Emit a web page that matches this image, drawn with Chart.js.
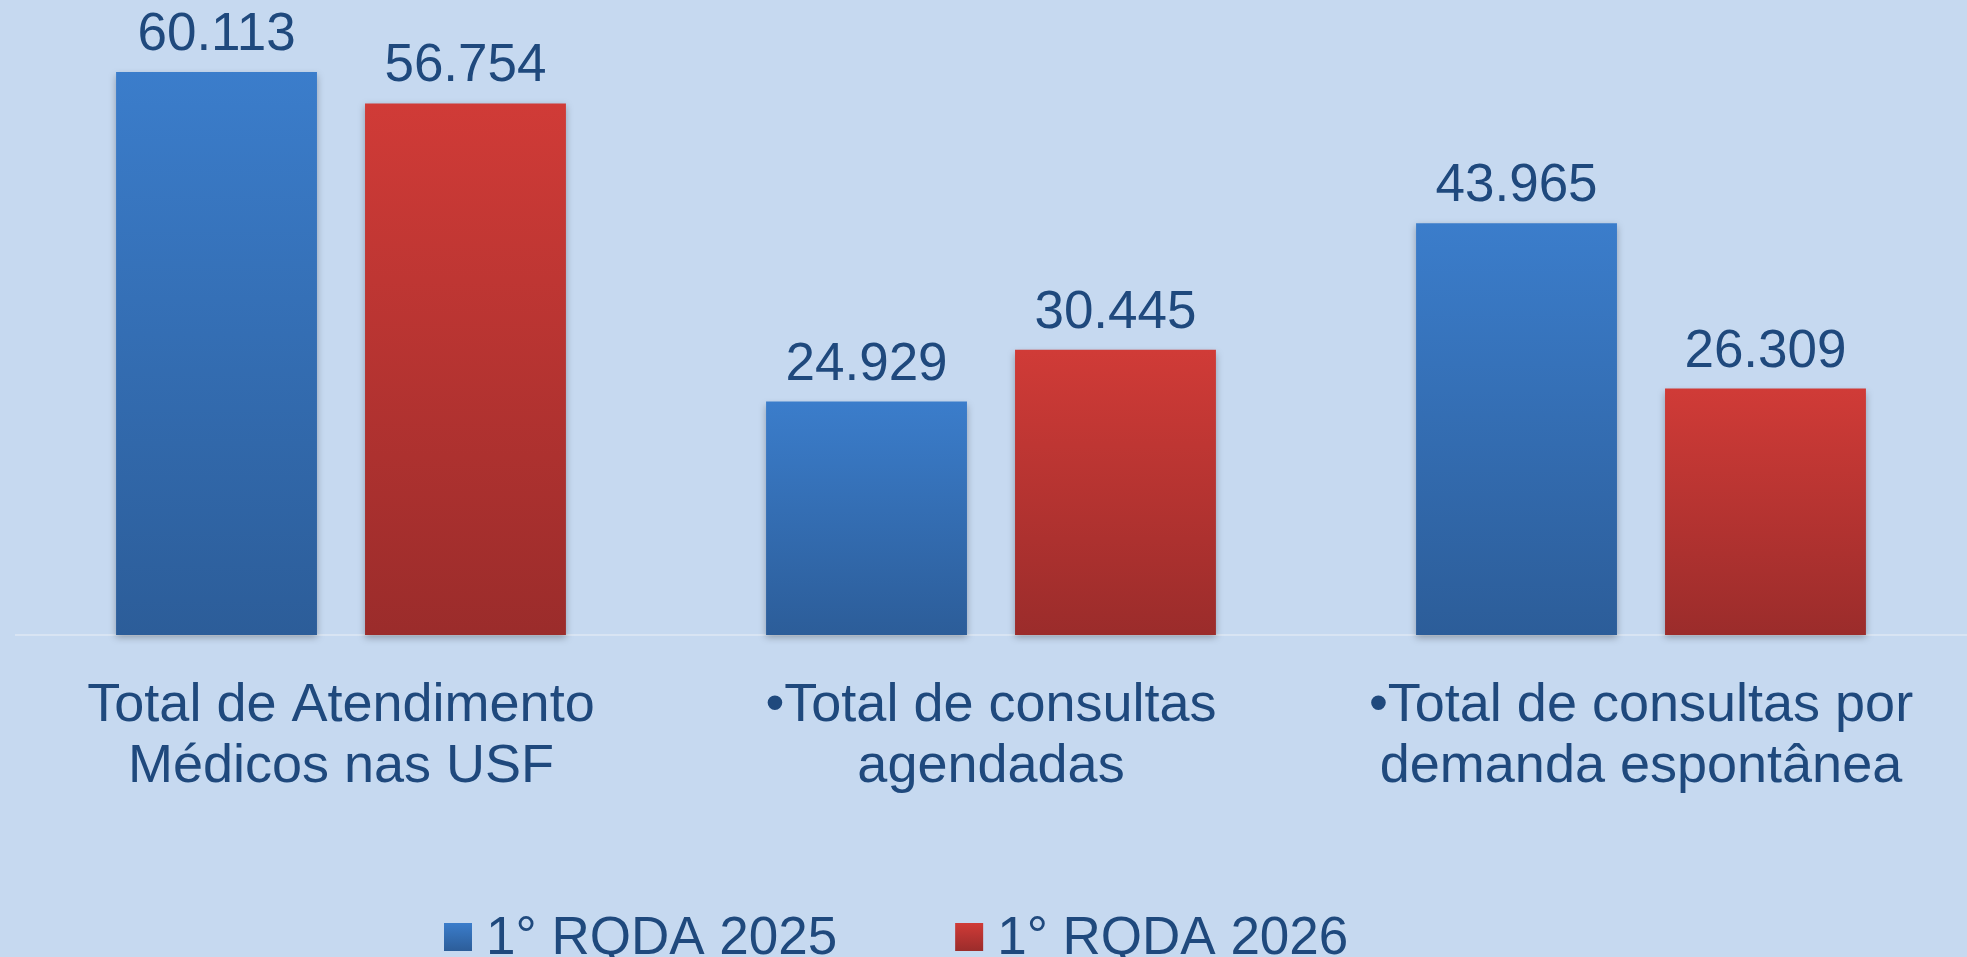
<!DOCTYPE html>
<html>
<head>
<meta charset="utf-8">
<script src="https://cdn.jsdelivr.net/npm/chart.js@4/dist/chart.umd.min.js"></script>
<style>
  html, body { margin: 0; padding: 0; background: #C6D9F0; }
  #wrap { position: relative; width: 1967px; height: 957px; }
</style>
</head>
<body>
<div id="wrap"><canvas id="c"></canvas></div>
<script>
// ---- data ----
const categories = [
  ['Total de Atendimento', 'Médicos nas USF'],
  ['•Total de consultas', 'agendadas'],
  ['•Total de consultas por', 'demanda espontânea']
];
const seriesNames = ['1° RQDA 2025', '1° RQDA 2026'];
const values2025 = [60113, 24929, 43965];
const values2026 = [56754, 30445, 26309];

// ---- style ----
const FONT = "'Liberation Sans', Arial, sans-serif";
const TEXT_COLOR = '#1F497D';
const gradStops = [
  ['#3B7DCB', '#2C5D99'],
  ['#D03B37', '#9B2C2B']
];

function fmt(v) {
  return String(v).replace(/\B(?=(\d{3})+(?!\d))/g, '.');
}

function barGradient(idx) {
  return function (ctx) {
    const chart = ctx.chart;
    if (!chart.chartArea || ctx.type !== 'data') return gradStops[idx][0];
    const y = chart.scales.y;
    const top = y.getPixelForValue(ctx.raw);
    const bottom = y.getPixelForValue(0);
    const g = chart.ctx.createLinearGradient(0, top, 0, bottom);
    g.addColorStop(0, gradStops[idx][0]);
    g.addColorStop(1, gradStops[idx][1]);
    return g;
  };
}

const shadowPlugin = {
  id: 'barShadow',
  beforeDatasetsDraw(chart) {
    const ctx = chart.ctx;
    ctx.save();
    ctx.shadowColor = 'rgba(0,0,0,0.28)';
    ctx.shadowBlur = 7;
    ctx.shadowOffsetX = 0;
    ctx.shadowOffsetY = 3;
  },
  afterDatasetsDraw(chart) {
    chart.ctx.restore();
  }
};

const valueLabels = {
  id: 'valueLabels',
  afterDraw(chart) {
    const ctx = chart.ctx;
    ctx.save();
    ctx.font = '53px ' + FONT;
    ctx.fillStyle = TEXT_COLOR;
    ctx.textAlign = 'center';
    ctx.textBaseline = 'alphabetic';
    chart.data.datasets.forEach((ds, di) => {
      const meta = chart.getDatasetMeta(di);
      meta.data.forEach((el, i) => {
        ctx.fillText(fmt(ds.data[i]), el.x, el.y - 22);
      });
    });
    ctx.restore();
  }
};

const customLegend = {
  id: 'customLegend',
  afterDraw(chart) {
    const ctx = chart.ctx;
    ctx.save();
    ctx.font = '53px ' + FONT;
    ctx.textBaseline = 'alphabetic';
    ctx.textAlign = 'left';
    let x = 444;
    const boxTop = 923, boxW = 28, boxH = 28;
    chart.data.datasets.forEach((ds, di) => {
      const g = ctx.createLinearGradient(0, boxTop, 0, boxTop + boxH);
      g.addColorStop(0, gradStops[di][0]);
      g.addColorStop(1, gradStops[di][1]);
      ctx.fillStyle = g;
      ctx.fillRect(x, boxTop, boxW, boxH);
      ctx.fillStyle = TEXT_COLOR;
      ctx.fillText(ds.label, x + 42, 954);
      x += 42 + ctx.measureText(ds.label).width + 118;
    });
    ctx.restore();
  }
};

Chart.defaults.font.family = FONT;

new Chart(document.getElementById('c'), {
  type: 'bar',
  data: {
    labels: categories,
    datasets: [
      { label: seriesNames[0], data: values2025, backgroundColor: barGradient(0), borderWidth: 0,
        categoryPercentage: 0.766, barPercentage: 0.807, clip: false },
      { label: seriesNames[1], data: values2026, backgroundColor: barGradient(1), borderWidth: 0,
        categoryPercentage: 0.766, barPercentage: 0.807, clip: false }
    ]
  },
  options: {
    responsive: true,
    maintainAspectRatio: false,
    animation: false,
    layout: { padding: { left: 16, right: 1, top: 0, bottom: 0 } },
    plugins: {
      legend: { display: false },
      tooltip: { enabled: false },
      title: { display: false }
    },
    scales: {
      y: {
        display: false,
        min: 0,
        max: 67800
      },
      x: {
        z: 1,
        grid: { display: false },
        border: { display: true, color: '#D8E4F3', width: 2 },
        ticks: {
          color: TEXT_COLOR,
          font: { size: 54, lineHeight: 1.13 },
          padding: 33,
          maxRotation: 0,
          autoSkip: false
        },
        afterFit(scale) { scale.height = 322; }
      }
    }
  },
  plugins: [shadowPlugin, valueLabels, customLegend]
});
</script>
</body>
</html>
